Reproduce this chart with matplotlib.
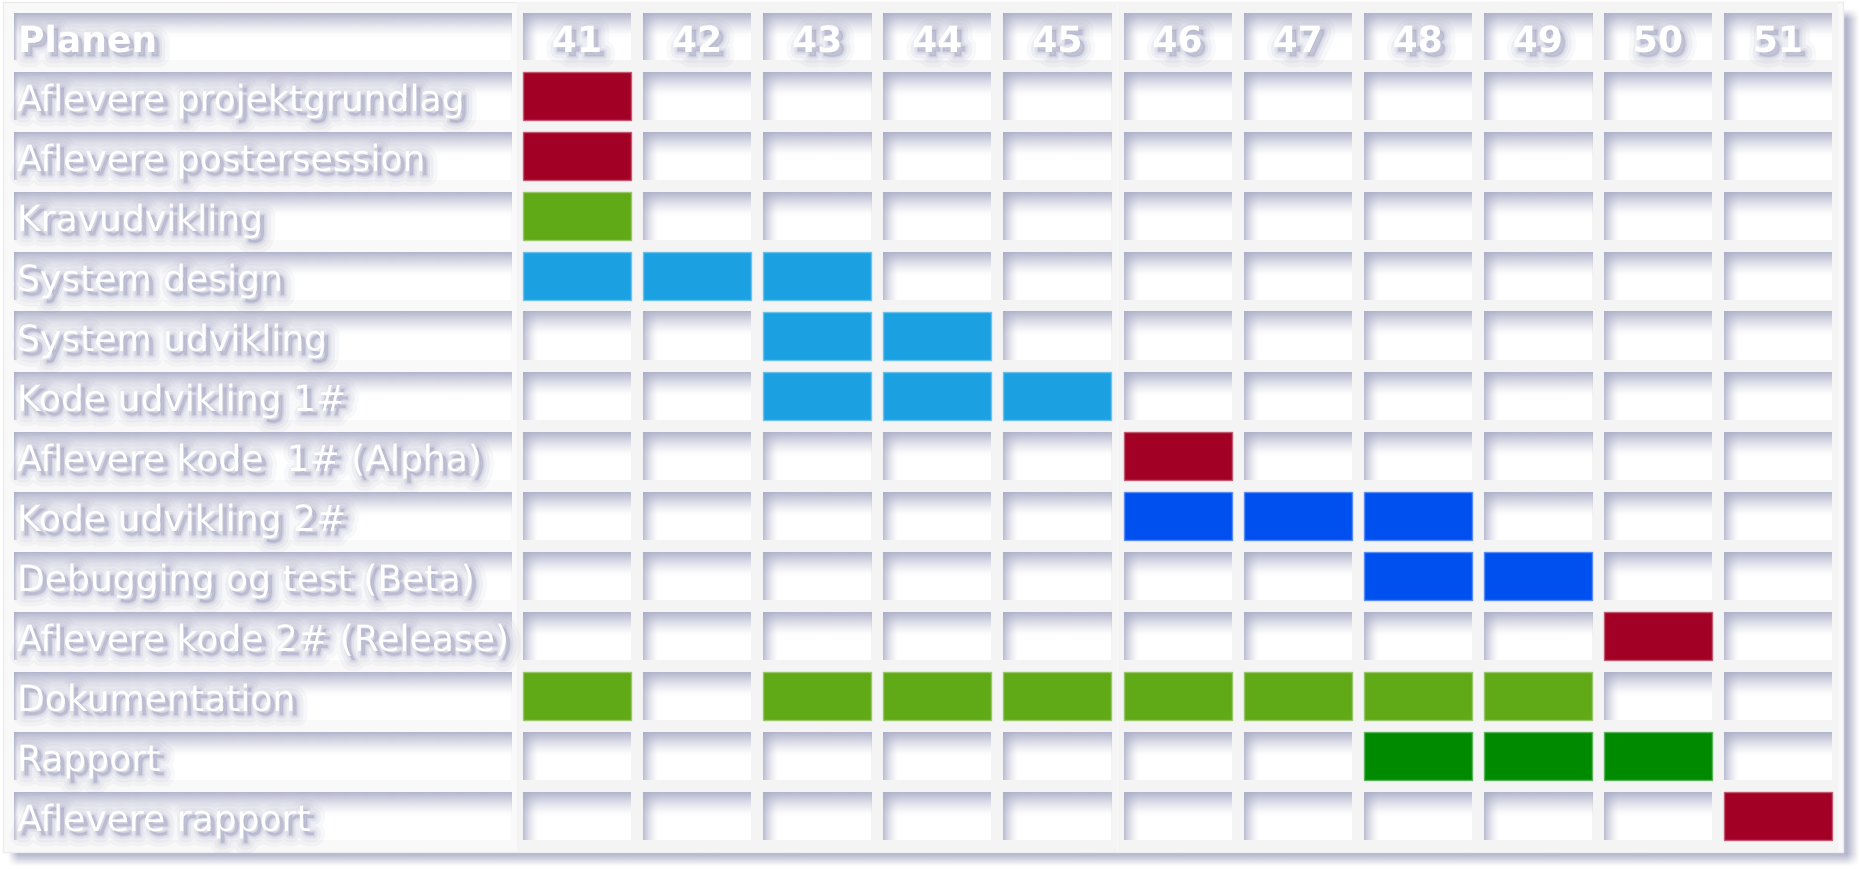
import matplotlib
matplotlib.use("Agg")
import matplotlib.pyplot as plt
import matplotlib.patheffects as pe
from matplotlib.patches import Rectangle
from matplotlib.colors import to_rgb
import numpy as np

# data
header_label = "Planen"
weeks = [41, 42, 43, 44, 45, 46, 47, 48, 49, 50, 51]
tasks = [
    "Aflevere projektgrundlag",
    "Aflevere postersession",
    "Kravudvikling",
    "System design",
    "System udvikling",
    "Kode udvikling 1#",
    "Aflevere kode  1# (Alpha)",
    "Kode udvikling 2#",
    "Debugging og test (Beta)",
    "Aflevere kode 2# (Release)",
    "Dokumentation",
    "Rapport",
    "Aflevere rapport",
]
task_weeks = [
    [41],
    [41],
    [41],
    [41, 42, 43],
    [43, 44],
    [43, 44, 45],
    [46],
    [46, 47, 48],
    [48, 49],
    [50],
    [41, 43, 44, 45, 46, 47, 48, 49],
    [48, 49, 50],
    [51],
]
task_kind = ["deadline", "deadline", "docs", "system", "system", "system", "deadline",
             "code", "code", "deadline", "docs", "report", "deadline"]

kind_colors = {
    "deadline": "#a20025",
    "docs": "#60a917",
    "system": "#1ba1e2",
    "code": "#0050ef",
    "report": "#008a00",
}

# layout (pixels)
W, H = 1860, 870
label_x0, label_x1 = 14, 511
col_x0, col_pitch, col_w = 523, 120.1, 108
head_y0, head_h = 14, 47
row_y0, row_pitch, row_h = 73, 60, 48
shade_rgb = to_rgb("#aaacc6")


def shade_img(h, w, top=24, left=15, a_top=0.9, a_left=0.8):
    yy = np.arange(h)[:, None] + 0.5
    xx = np.arange(w)[None, :] + 0.5
    at = np.clip(1 - yy / top, 0, 1) ** 1.4 * a_top
    al = np.clip(1 - xx / left, 0, 1) ** 1.4 * a_left
    a = 1 - (1 - at) * (1 - al)
    img = np.zeros((h, w, 4))
    img[..., :3] = shade_rgb
    img[..., 3] = a
    return img


def cell(ax, x, y, w, h, left=15):
    ax.add_patch(Rectangle((x, y), w, h, facecolor="white", edgecolor="none", zorder=2))
    ax.imshow(shade_img(int(round(h)), int(round(w)), left=left), extent=(x, x + w, y + h, y),
              origin="upper", interpolation="bilinear", aspect="auto", zorder=3)


def lighten(c, f=0.35):
    r, g, b = to_rgb(c)
    return (r + (1 - r) * f, g + (1 - g) * f, b + (1 - b) * f)


sc = "#9a9cbc"
text_fx = [
    pe.SimplePatchShadow(offset=(3, -3), shadow_rgbFace=sc, alpha=0.07, linewidth=16, foreground=sc),
    pe.SimplePatchShadow(offset=(3, -3), shadow_rgbFace=sc, alpha=0.10, linewidth=10, foreground=sc),
    pe.SimplePatchShadow(offset=(3, -3), shadow_rgbFace=sc, alpha=0.14, linewidth=5, foreground=sc),
    pe.SimplePatchShadow(offset=(3, -3), shadow_rgbFace=sc, alpha=0.2, linewidth=2, foreground=sc),
    pe.Normal(),
]

fig = plt.figure(figsize=(W / 100, H / 100), dpi=100)
fig.patch.set_facecolor("white")
ax = fig.add_axes([0, 0, 1, 1])
ax.axis("off")

# soft panel shadow
yy, xx = np.mgrid[0:H, 0:W] + 0.5
sx = np.clip((xx - 8) / 10, 0, 1) * np.clip((1858 - xx) / 12, 0, 1)
sy = np.clip((yy - 10) / 10, 0, 1) * np.clip((867 - yy) / 12, 0, 1)
shadow = np.zeros((H, W, 4))
shadow[..., :3] = to_rgb("#9c9ebc")
shadow[..., 3] = sx * sy * 0.75
ax.imshow(shadow, extent=(0, W, H, 0), origin="upper", interpolation="bilinear", aspect="auto", zorder=0)
ax.add_patch(Rectangle((3, 3), 1840, 850, facecolor="#f9f9f9", edgecolor="#ececec", lw=1, zorder=1))

# column strips
for j in range(len(weeks)):
    x = col_x0 + j * col_pitch
    ax.add_patch(Rectangle((x - 6, 3), col_w + 12, 850, facecolor="#f4f4f4", edgecolor="none", zorder=1))

# header
cell(ax, label_x0, head_y0, label_x1 - label_x0, head_h, left=5)
ax.text(label_x0 + 4, head_y0 + 39, header_label, color="white", fontsize=26, fontweight="bold",
        va="baseline", ha="left", path_effects=text_fx, zorder=6)
for j, wk in enumerate(weeks):
    x = col_x0 + j * col_pitch
    cell(ax, x, head_y0, col_w, head_h)
    ax.text(x + col_w / 2, head_y0 + 39, str(wk), color="white", fontsize=26, fontweight="bold",
            va="baseline", ha="center", path_effects=text_fx, zorder=6)

# task rows
for i, name in enumerate(tasks):
    y = row_y0 + i * row_pitch
    cell(ax, label_x0, y, label_x1 - label_x0, row_h, left=5)
    ax.text(label_x0 + 3, y + 39, name, color="white", fontsize=26,
            va="baseline", ha="left", path_effects=text_fx, zorder=6)
    col = kind_colors[task_kind[i]]
    for j, wk in enumerate(weeks):
        x = col_x0 + j * col_pitch
        if wk in task_weeks[i]:
            ax.add_patch(Rectangle((x, y), col_w, row_h, facecolor=col, edgecolor=lighten(col),
                                   lw=1, zorder=4))
        else:
            cell(ax, x, y, col_w, row_h)

ax.set_xlim(0, W)
ax.set_ylim(H, 0)
fig.savefig("out.png", dpi=100, facecolor="white")
